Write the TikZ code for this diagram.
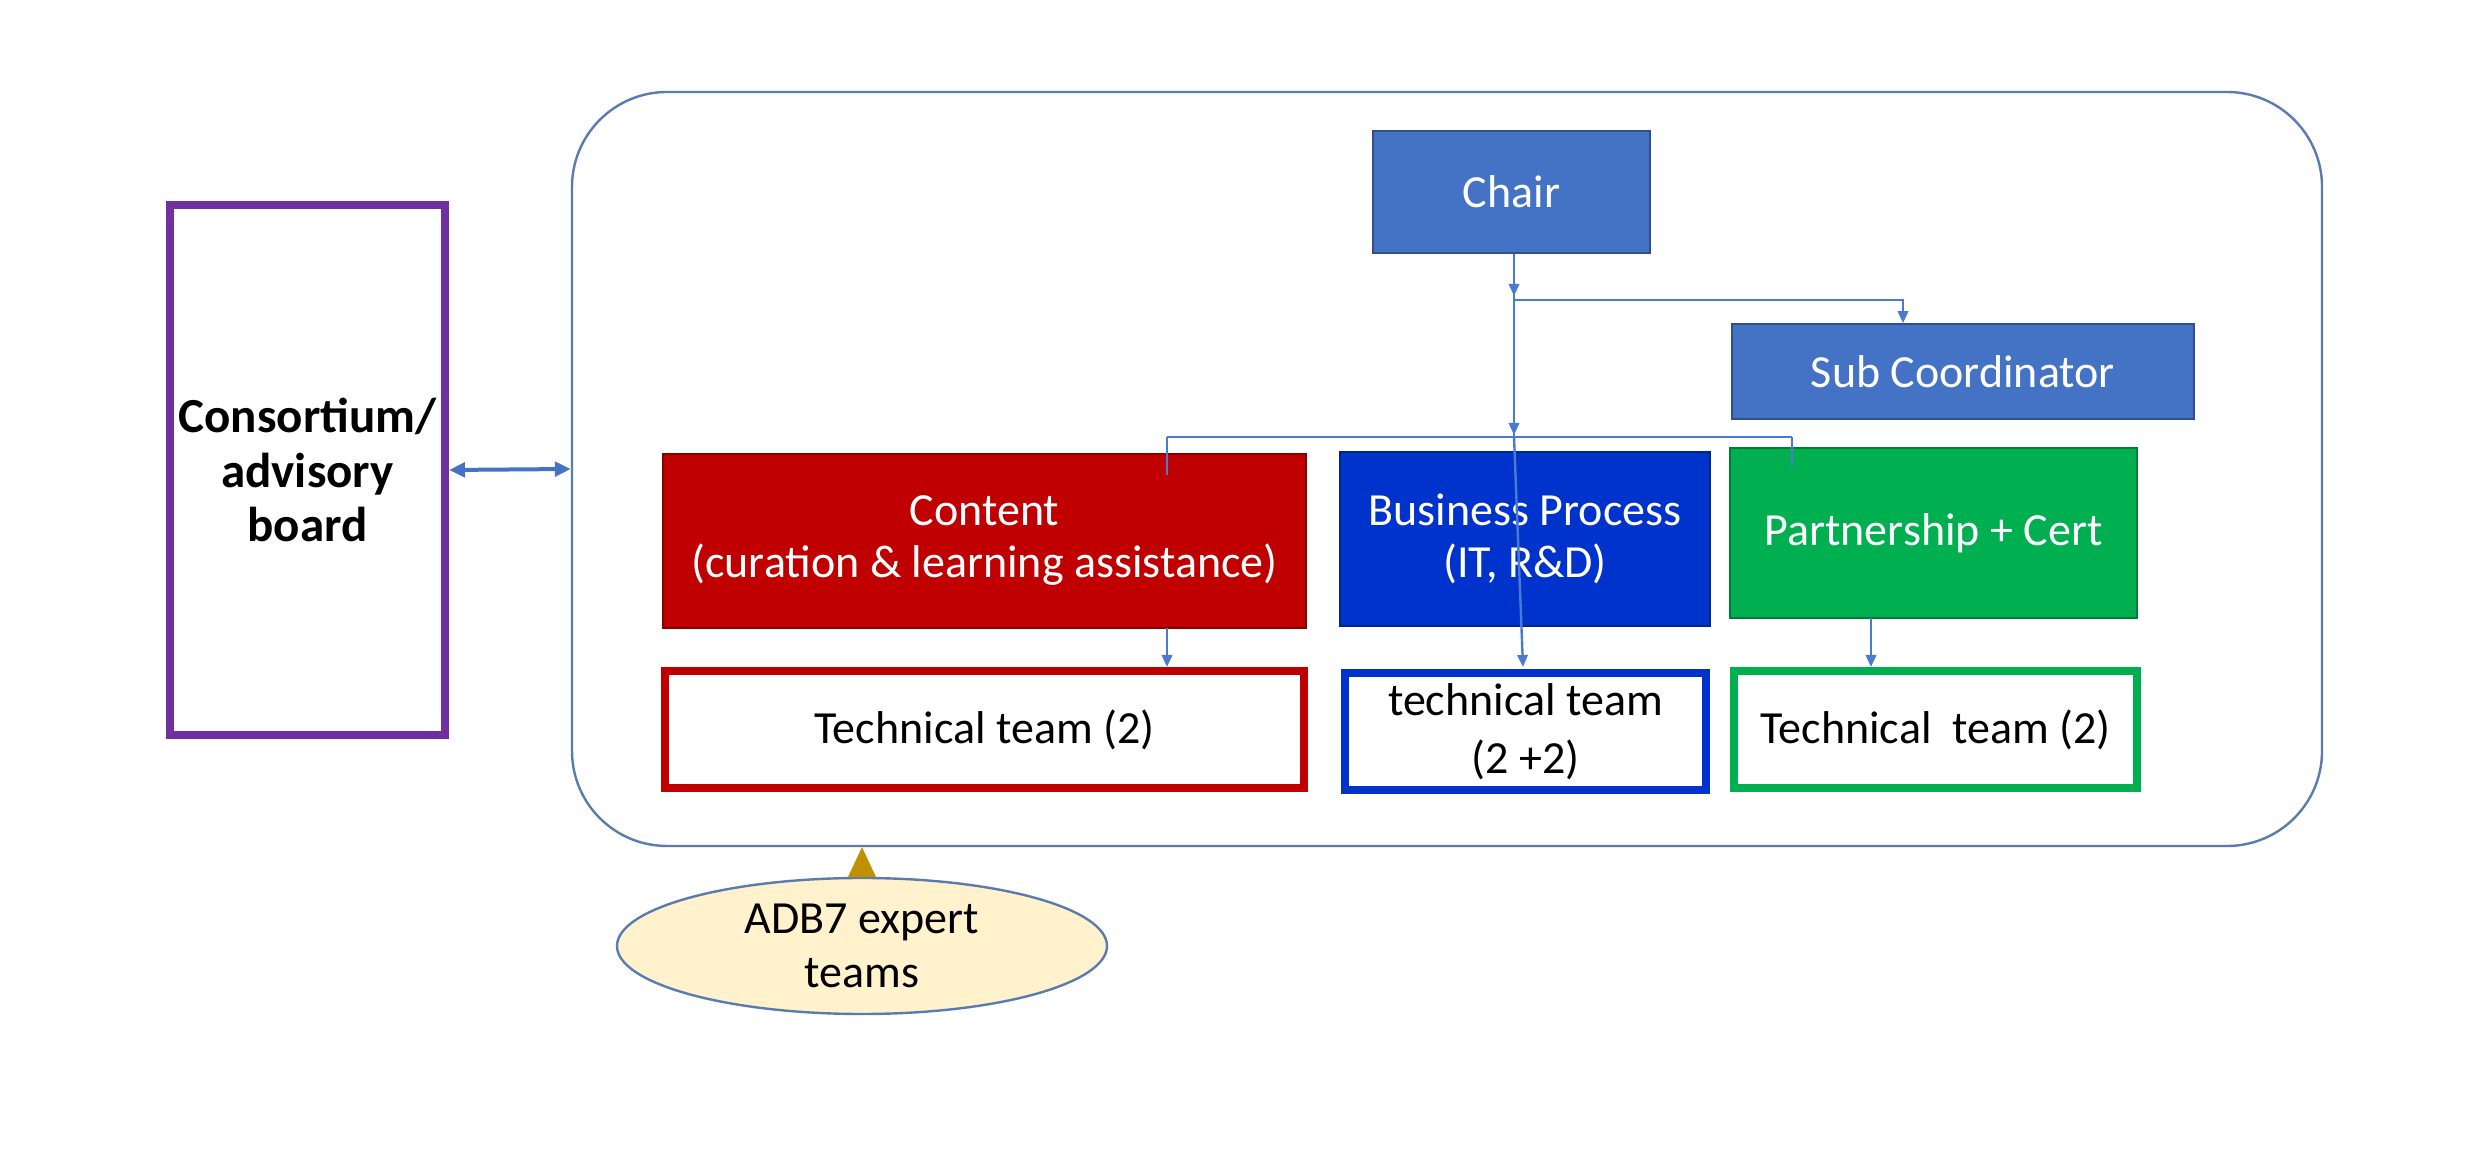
\documentclass[tikz,border=0pt]{standalone}
\usepackage{fontspec}
\setmainfont{Carlito}
\usetikzlibrary{arrows.meta,shapes.geometric}
\definecolor{accblue}{HTML}{4472C4}
\definecolor{accborder}{HTML}{2F528F}
\definecolor{frameblue}{HTML}{5A7BB0}
\definecolor{cred}{HTML}{C00000}
\definecolor{cblue}{HTML}{0033CC}
\definecolor{cgreen}{HTML}{00B050}
\definecolor{cpurple}{HTML}{7030A0}
\definecolor{cyellow}{HTML}{FFF2CC}
\definecolor{cgold}{HTML}{BF9000}
\definecolor{linkblue}{HTML}{4A7BD0}
\begin{document}
\begin{tikzpicture}[x=0.25pt,y=-0.25pt,
  every node/.style={font=\fontsize{11.5}{13}\selectfont, inner sep=0pt, align=center},
  filled/.style={rectangle, fill=#1, draw=#1!70!black, line width=0.4pt, text=white},
  teambox/.style={rectangle, draw=#1, line width=2pt, fill=white, text=black,
    minimum height=29.25pt},
  link/.style={draw=linkblue, line width=0.6pt},
  tip/.style={-{Triangle[length=3pt,width=2.6pt]}}
]
\useasboundingbox (0,0) rectangle (2480,1151);

% outer frame
\node[draw=frameblue, line width=0.6pt, rounded corners=23.75pt,
  minimum width=437.5pt, minimum height=188.5pt] (team) at (1447,469) {};

% advisory board
\node[draw=cpurple, line width=2pt, minimum width=68.75pt, minimum height=132.5pt,
  font=\fontsize{12.25}{13.6}\selectfont\bfseries] (board) at (307.5,470)
  {Consortium/\\advisory\\board};

% top boxes
\node[filled=accblue, minimum width=69.25pt, minimum height=30.5pt] (chair) at (1511.5,192) {Chair};
\node[filled=accblue, minimum width=115.5pt, minimum height=23.75pt] (sub) at (1963,371.5) {Sub Coordinator};

\node[filled=cred, minimum width=160.75pt, minimum height=43.5pt] (content) at (984.5,541)
  {Content\\(curation \& learning assistance)};
\node[filled=cblue, minimum width=92.5pt, minimum height=43.5pt] (bp) at (1525,539)
  {Business Process\\(IT, R\&D)};
\node[filled=cgreen, minimum width=101.75pt, minimum height=42.5pt] (pc) at (1933.5,533)
  {Partnership + Cert};

% technical teams
\node[teambox=cred, minimum width=159.75pt] (tred) at (984.5,729.5) {Technical team (2)};
\node[teambox=cblue, minimum width=90.25pt, font=\fontsize{11.5}{14.6}\selectfont] (tblue) at (1525.5,732) {technical team\\(2 +2)};
\node[teambox=cgreen, minimum width=100.75pt] (tgreen) at (1935.5,729.5) {Technical\ \ team (2)};

% expert teams
\node[ellipse, draw=frameblue, line width=0.6pt, fill=cyellow, minimum width=122.5pt,
  minimum height=34pt, font=\fontsize{11.5}{13.5}\selectfont] (adb) at (862,946) {ADB7 expert\\teams};

% coordinates of the branching lines
\coordinate (j1) at (1514,300);
\coordinate (j2) at (1514,437);
\coordinate (sx) at (1903,300);
\coordinate (bl) at (1167,437);
\coordinate (br) at (1792,437);

% connectors
\draw[link, tip] (chair.south -| j1) -- (1514,296);
\draw[link] (1514,294) -- (j2);
\draw[link, tip] (j1) -- (sx) -- (sx |- sub.north);
\draw[link, tip] (1514,410) -- (1514,435);
\draw[link] (bl) -- (br);
\draw[link] (bl) -- ++(0,38);
\draw[link] (br) -- ++(0,30);
\draw[link, tip] (j2) -- (1523,667);
\draw[link, tip] (1167,628) -- (tred.north -| 1167,0);
\draw[link, tip] (1871,618) -- (tgreen.north -| 1871,0);

% board <-> team
\draw[draw=accblue, line width=1pt, {Triangle[length=4pt,width=3.6pt]}-{Triangle[length=4pt,width=3.6pt]}]
  (board.east) -- (team.west);

% expert teams -> team
\draw[draw=cgold, fill=cgold, line width=0.2pt, -{Triangle[length=7.5pt,width=7pt]}]
  (adb.north) -- (adb.north |- team.south);
\end{tikzpicture}
\end{document}
